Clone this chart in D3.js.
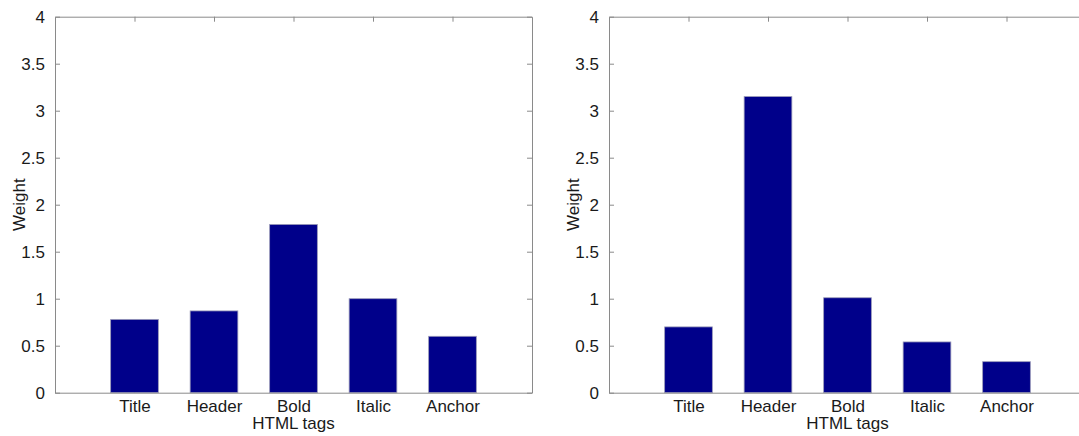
<!DOCTYPE html>
<html>
<head>
<meta charset="utf-8">
<script src="https://cdn.jsdelivr.net/npm/d3@7/dist/d3.min.js"></script>
<style>
  html, body { margin: 0; padding: 0; background: #fff; }
  svg { display: block; }
  text { font-family: "Liberation Sans", Arial, Helvetica, sans-serif; fill: #1a1a1a; }
</style>
</head>
<body>
<svg id="chart" width="1079" height="436"></svg>
<script>
// HTML tag categories shared by both panels
const categories = ["Title", "Header", "Bold", "Italic", "Anchor"];

// Weights per tag, one array per panel
const weightsLeft  = [0.78, 0.87, 1.79, 1.00, 0.60];
const weightsRight = [0.70, 3.15, 1.01, 0.54, 0.33];

// Y axis tick values
const yTicks = [0, 0.5, 1, 1.5, 2, 2.5, 3, 3.5, 4];

const xLabel = "HTML tags";
const yLabel = "Weight";

const svg = d3.select("#chart");

const barColor = "#00008a";
const axisColor = "#8a8a8a";
const tickLen = 5;
const barWidth = 0.6;

function drawPanel(values, left, right) {
  const top = 16.7, bottom = 392.7;
  const x = d3.scaleLinear().domain([0, categories.length + 1]).range([left, right]);
  const y = d3.scaleLinear().domain([0, 4]).range([bottom, top]);
  const g = svg.append("g");

  // inner ticks along bottom (drawn beneath the bars)
  g.append("g").selectAll("line")
    .data(categories.map((_, i) => i + 1))
    .join("line")
    .attr("x1", d => x(d)).attr("x2", d => x(d))
    .attr("y1", bottom).attr("y2", bottom - tickLen)
    .attr("stroke", axisColor).attr("stroke-width", 1);

  // bars
  g.append("g").selectAll("rect")
    .data(values)
    .join("rect")
    .attr("x", (d, i) => x(i + 1 - barWidth / 2))
    .attr("width", (d, i) => x(i + 1 + barWidth / 2) - x(i + 1 - barWidth / 2))
    .attr("y", d => y(d))
    .attr("height", d => y(0) - y(d))
    .attr("fill", barColor)
    .attr("stroke", "#9a9ab8")
    .attr("stroke-width", 0.8);

  // left y axis with inward ticks
  const yAxisL = d3.axisLeft(y).tickValues(yTicks).tickFormat(d3.format("")).tickSizeInner(-tickLen).tickSizeOuter(0).tickPadding(10);
  const gyl = g.append("g").attr("transform", `translate(${left},0)`).call(yAxisL);
  gyl.select(".domain").attr("stroke", axisColor);
  gyl.selectAll(".tick line").attr("stroke", axisColor);
  gyl.selectAll(".tick text").attr("font-size", 17).attr("fill", "#1a1a1a")
    .attr("font-family", '"Liberation Sans", Arial, sans-serif');

  // right y axis: ticks only
  const yAxisR = d3.axisRight(y).tickValues(yTicks).tickFormat("").tickSizeInner(-tickLen).tickSizeOuter(0);
  const gyr = g.append("g").attr("transform", `translate(${right},0)`).call(yAxisR);
  gyr.select(".domain").attr("stroke", axisColor);
  gyr.selectAll(".tick line").attr("stroke", axisColor);

  // bottom axis line and category labels
  const xAxisB = d3.axisBottom(x).tickValues(categories.map((_, i) => i + 1))
    .tickFormat((d) => categories[d - 1]).tickSize(0).tickPadding(7);
  const gxb = g.append("g").attr("transform", `translate(0,${bottom})`).call(xAxisB);
  gxb.select(".domain").attr("stroke", axisColor);
  gxb.selectAll(".tick text").attr("font-size", 17).attr("fill", "#1a1a1a")
    .attr("font-family", '"Liberation Sans", Arial, sans-serif');

  // top axis line with inward ticks
  const xAxisT = d3.axisTop(x).tickValues(categories.map((_, i) => i + 1))
    .tickFormat("").tickSizeInner(-tickLen).tickSizeOuter(0);
  const gxt = g.append("g").attr("transform", `translate(0,${top})`).call(xAxisT);
  gxt.select(".domain").attr("stroke", axisColor);
  gxt.selectAll(".tick line").attr("stroke", axisColor);

  // axis titles
  g.append("text")
    .attr("x", (left + right) / 2).attr("y", 429)
    .attr("text-anchor", "middle").attr("font-size", 17)
    .text(xLabel);

  g.append("text")
    .attr("transform", `translate(${left - 30},${(top + bottom) / 2}) rotate(-90)`)
    .attr("text-anchor", "middle").attr("font-size", 17)
    .text(yLabel);
}

drawPanel(weightsLeft, 55, 532);
drawPanel(weightsRight, 609, 1086);
</script>
</body>
</html>
